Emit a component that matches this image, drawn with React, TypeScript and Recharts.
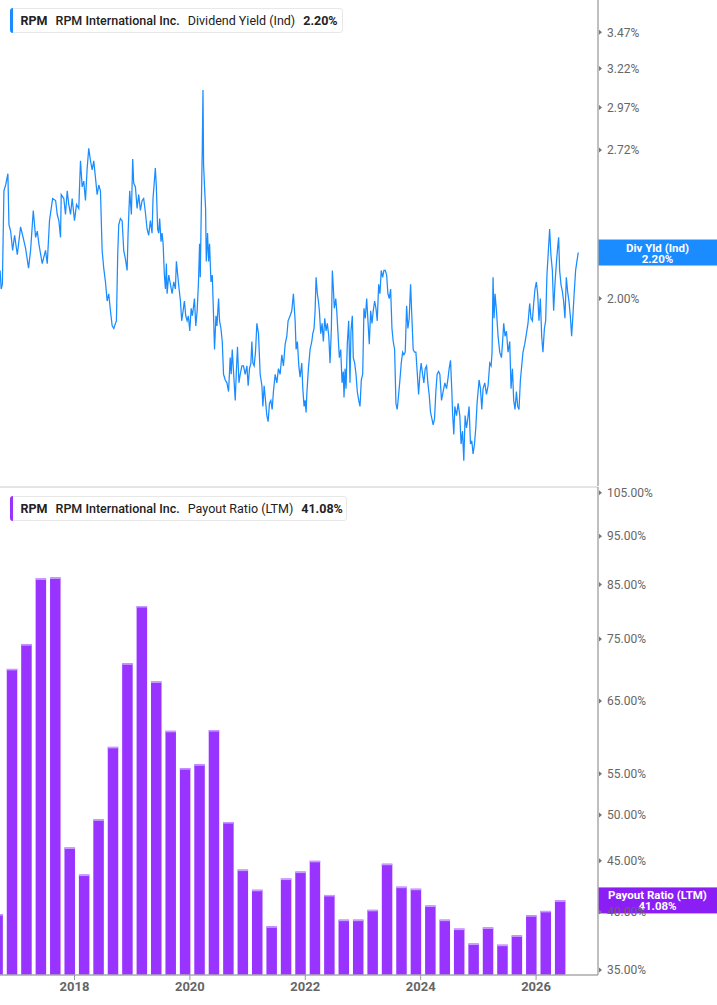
import React from "react";
import { LineChart, Line, BarChart, Bar, XAxis, YAxis, ReferenceLine } from "recharts";

// dividend yield (Ind), % — decimal year / value
const yieldDates = [
  2016.711, 2016.729, 2016.750, 2016.777, 2016.807, 2016.846, 2016.864, 2016.893, 2016.928, 2016.962,
  2017.009, 2017.066, 2017.101, 2017.152, 2017.204, 2017.239, 2017.286, 2017.326, 2017.355, 2017.383,
  2017.441, 2017.498, 2017.528, 2017.567, 2017.621, 2017.673, 2017.701, 2017.729, 2017.758, 2017.770,
  2017.815, 2017.844, 2017.874, 2017.901, 2017.931, 2017.960, 2018.000, 2018.035, 2018.074, 2018.104,
  2018.133, 2018.161, 2018.190, 2018.220, 2018.247, 2018.277, 2018.306, 2018.334, 2018.363, 2018.393,
  2018.421, 2018.450, 2018.479, 2018.507, 2018.537, 2018.566, 2018.594, 2018.623, 2018.653, 2018.681,
  2018.710, 2018.727, 2018.749, 2018.767, 2018.796, 2018.826, 2018.853, 2018.883, 2018.912, 2018.929,
  2018.957, 2018.986, 2019.009, 2019.026, 2019.056, 2019.085, 2019.113, 2019.142, 2019.172, 2019.199,
  2019.229, 2019.258, 2019.286, 2019.315, 2019.344, 2019.361, 2019.384, 2019.401, 2019.419, 2019.441,
  2019.459, 2019.476, 2019.500, 2019.518, 2019.536, 2019.558, 2019.576, 2019.593, 2019.605, 2019.633,
  2019.663, 2019.692, 2019.720, 2019.749, 2019.766, 2019.789, 2019.813, 2019.836, 2019.858, 2019.882,
  2019.905, 2019.928, 2019.952, 2019.974, 2019.998, 2020.022, 2020.044, 2020.079, 2020.102, 2020.126,
  2020.149, 2020.168, 2020.180, 2020.197, 2020.215, 2020.227, 2020.237, 2020.254, 2020.272, 2020.284,
  2020.306, 2020.324, 2020.341, 2020.365, 2020.388, 2020.410, 2020.427, 2020.452, 2020.469, 2020.497,
  2020.514, 2020.538, 2020.561, 2020.583, 2020.613, 2020.642, 2020.670, 2020.699, 2020.716, 2020.734,
  2020.756, 2020.786, 2020.803, 2020.825, 2020.850, 2020.872, 2020.901, 2020.929, 2020.959, 2020.988,
  2021.010, 2021.033, 2021.057, 2021.074, 2021.092, 2021.114, 2021.137, 2021.161, 2021.189, 2021.218,
  2021.248, 2021.265, 2021.287, 2021.310, 2021.334, 2021.356, 2021.379, 2021.403, 2021.426, 2021.448,
  2021.478, 2021.507, 2021.535, 2021.564, 2021.593, 2021.621, 2021.651, 2021.680, 2021.702, 2021.737,
  2021.766, 2021.794, 2021.824, 2021.841, 2021.863, 2021.888, 2021.910, 2021.939, 2021.957, 2021.979,
  2021.997, 2022.014, 2022.026, 2022.054, 2022.083, 2022.113, 2022.130, 2022.152, 2022.170, 2022.187,
  2022.209, 2022.227, 2022.244, 2022.268, 2022.291, 2022.313, 2022.337, 2022.360, 2022.382, 2022.407,
  2022.429, 2022.452, 2022.469, 2022.487, 2022.503, 2022.528, 2022.545, 2022.567, 2022.590, 2022.614,
  2022.637, 2022.659, 2022.671, 2022.689, 2022.706, 2022.728, 2022.752, 2022.775, 2022.792, 2022.815,
  2022.832, 2022.856, 2022.879, 2022.901, 2022.926, 2022.948, 2022.971, 2022.995, 2023.017, 2023.040,
  2023.064, 2023.086, 2023.109, 2023.133, 2023.156, 2023.178, 2023.202, 2023.225, 2023.247, 2023.272,
  2023.294, 2023.316, 2023.341, 2023.363, 2023.386, 2023.410, 2023.432, 2023.455, 2023.479, 2023.502,
  2023.524, 2023.548, 2023.571, 2023.593, 2023.618, 2023.640, 2023.663, 2023.687, 2023.709, 2023.732,
  2023.756, 2023.778, 2023.801, 2023.825, 2023.848, 2023.870, 2023.894, 2023.917, 2023.939, 2023.964,
  2023.986, 2024.008, 2024.033, 2024.055, 2024.078, 2024.102, 2024.124, 2024.147, 2024.171, 2024.194,
  2024.216, 2024.240, 2024.263, 2024.285, 2024.310, 2024.332, 2024.361, 2024.389, 2024.419, 2024.448,
  2024.470, 2024.493, 2024.517, 2024.540, 2024.552, 2024.574, 2024.592, 2024.621, 2024.649, 2024.678,
  2024.700, 2024.725, 2024.747, 2024.770, 2024.794, 2024.816, 2024.839, 2024.863, 2024.886, 2024.908,
  2024.932, 2024.955, 2024.977, 2025.012, 2025.036, 2025.059, 2025.081, 2025.111, 2025.140, 2025.168,
  2025.197, 2025.220, 2025.237, 2025.254, 2025.272, 2025.289, 2025.313, 2025.341, 2025.370, 2025.400,
  2025.417, 2025.439, 2025.462, 2025.486, 2025.514, 2025.543, 2025.566, 2025.590, 2025.612, 2025.635,
  2025.659, 2025.681, 2025.704, 2025.728, 2025.751, 2025.773, 2025.803, 2025.832, 2025.860, 2025.889,
  2025.912, 2025.936, 2025.958, 2025.981, 2026.005, 2026.027, 2026.050, 2026.074, 2026.097, 2026.119,
  2026.144, 2026.166, 2026.188, 2026.213, 2026.235, 2026.257, 2026.282, 2026.304, 2026.327, 2026.351,
  2026.373, 2026.391, 2026.408, 2026.431, 2026.455, 2026.477, 2026.500, 2026.524, 2026.546, 2026.569,
  2026.593, 2026.616, 2026.638, 2026.662, 2026.685, 2026.707, 2026.731,
];
const yieldValues = [
  2.12, 2.04, 2.06, 2.50, 2.53, 2.59, 2.33, 2.30, 2.21, 2.28,
  2.19, 2.32, 2.28, 2.22, 2.13, 2.21, 2.40, 2.27, 2.30, 2.24,
  2.15, 2.21, 2.15, 2.35, 2.46, 2.45, 2.38, 2.35, 2.27, 2.48,
  2.46, 2.38, 2.50, 2.43, 2.38, 2.46, 2.35, 2.43, 2.41, 2.66,
  2.52, 2.55, 2.45, 2.62, 2.73, 2.66, 2.61, 2.66, 2.57, 2.48,
  2.53, 2.50, 2.21, 2.13, 2.07, 1.99, 2.02, 1.95, 1.89, 1.88,
  1.90, 1.91, 2.19, 2.33, 2.36, 2.35, 2.21, 2.17, 2.12, 2.29,
  2.50, 2.38, 2.67, 2.54, 2.52, 2.41, 2.48, 2.40, 2.45, 2.46,
  2.39, 2.31, 2.28, 2.35, 2.29, 2.46, 2.55, 2.62, 2.52, 2.31,
  2.29, 2.36, 2.25, 2.29, 2.24, 2.10, 2.04, 2.15, 2.02, 2.10,
  2.06, 2.02, 2.07, 2.04, 2.16, 2.10, 2.04, 1.99, 1.91, 1.95,
  1.99, 1.93, 1.91, 1.93, 1.87, 1.96, 1.93, 2.00, 1.89, 1.95,
  2.07, 2.24, 2.09, 2.40, 2.73, 3.08, 2.64, 2.52, 2.41, 2.16,
  2.29, 2.16, 2.24, 2.07, 2.10, 1.93, 1.80, 1.93, 1.89, 2.00,
  1.91, 1.88, 1.83, 1.71, 1.69, 1.68, 1.65, 1.77, 1.71, 1.80,
  1.72, 1.62, 1.71, 1.81, 1.68, 1.71, 1.74, 1.74, 1.71, 1.74,
  1.67, 1.73, 1.75, 1.83, 1.75, 1.74, 1.79, 1.90, 1.86, 1.71,
  1.67, 1.60, 1.67, 1.62, 1.57, 1.55, 1.61, 1.62, 1.59, 1.65,
  1.71, 1.68, 1.73, 1.71, 1.78, 1.74, 1.82, 1.85, 1.91, 1.93,
  1.95, 2.02, 1.91, 1.80, 1.83, 1.74, 1.70, 1.75, 1.66, 1.60,
  1.62, 1.58, 1.64, 1.73, 1.80, 1.83, 1.86, 1.88, 1.95, 2.09,
  2.02, 1.99, 1.95, 1.86, 1.90, 1.83, 1.92, 1.87, 1.90, 1.85,
  1.75, 1.88, 2.12, 2.04, 1.96, 2.00, 1.95, 1.86, 1.77, 1.80,
  1.68, 1.72, 1.63, 1.73, 1.66, 1.82, 1.91, 1.68, 1.87, 1.93,
  1.77, 1.75, 1.71, 1.65, 1.62, 1.60, 1.69, 1.71, 1.96, 1.92,
  2.00, 1.91, 1.82, 1.95, 1.90, 1.95, 1.99, 1.96, 1.91, 2.06,
  2.02, 2.12, 2.09, 2.12, 2.12, 2.10, 2.02, 2.00, 2.04, 1.88,
  1.83, 1.80, 1.61, 1.59, 1.64, 1.69, 1.75, 1.79, 1.78, 1.79,
  1.97, 1.88, 1.92, 2.06, 1.92, 1.80, 1.79, 1.79, 1.72, 1.64,
  1.71, 1.75, 1.71, 1.68, 1.73, 1.74, 1.68, 1.64, 1.58, 1.56,
  1.54, 1.56, 1.65, 1.71, 1.72, 1.71, 1.62, 1.65, 1.68, 1.66,
  1.69, 1.73, 1.76, 1.65, 1.58, 1.51, 1.60, 1.57, 1.61, 1.57,
  1.48, 1.52, 1.43, 1.57, 1.53, 1.56, 1.60, 1.48, 1.49, 1.45,
  1.48, 1.53, 1.61, 1.69, 1.66, 1.59, 1.66, 1.68, 1.64, 1.67,
  1.75, 1.74, 1.79, 2.09, 1.92, 2.02, 1.95, 1.85, 1.79, 1.77,
  1.82, 1.90, 1.85, 1.87, 1.79, 1.83, 1.66, 1.73, 1.62, 1.59,
  1.65, 1.60, 1.59, 1.69, 1.74, 1.79, 1.82, 1.86, 1.90, 1.98,
  1.92, 1.91, 1.98, 2.04, 2.07, 2.02, 1.91, 2.00, 1.85, 1.79,
  1.88, 1.91, 2.10, 2.21, 2.31, 2.19, 2.12, 1.95, 2.06, 2.15,
  2.22, 2.27, 2.12, 2.06, 2.03, 1.99, 1.92, 2.09, 2.03, 1.99,
  1.93, 1.85, 1.93, 2.03, 2.12, 2.16, 2.20,
];

// payout ratio (LTM), % — fiscal quarter ends
const payoutQuarters = [
  "2016-08", "2016-11", "2017-02", "2017-05", "2017-08", "2017-11", "2018-02", "2018-05",
  "2018-08", "2018-11", "2019-02", "2019-05", "2019-08", "2019-11", "2020-02", "2020-05",
  "2020-08", "2020-11", "2021-02", "2021-05", "2021-08", "2021-11", "2022-02", "2022-05",
  "2022-08", "2022-11", "2023-02", "2023-05", "2023-08", "2023-11", "2024-02", "2024-05",
  "2024-08", "2024-11", "2025-02", "2025-05", "2025-08", "2025-11", "2026-02", "2026-05",
];
const payoutValues = [
  39.8, 70.0, 74.1, 86.2, 86.4, 46.4, 43.6, 49.5,
  58.5, 70.9, 80.9, 68.0, 60.7, 55.7, 56.2, 60.8,
  49.2, 44.1, 42.1, 38.7, 43.2, 43.9, 45.0, 41.6,
  39.3, 39.3, 40.2, 44.7, 42.4, 42.2, 40.6, 39.3,
  38.5, 37.2, 38.6, 37.1, 37.9, 39.7, 40.1, 41.08,
];

const yieldTicks = [3.47, 3.22, 2.97, 2.72, 2.0];
const payoutTicks = [105, 95, 85, 75, 65, 55, 50, 45, 40, 35];
const yearTicks = [2018, 2020, 2022, 2024, 2026];
const lastYield = 2.2;
const lastPayout = 41.08;

const yieldData = yieldDates.map((t, i) => ({ t, v: yieldValues[i] }));
const payoutData = payoutQuarters.map((q, i) => {
  const [y, m] = q.split("-").map(Number);
  return { t: y + m / 12, v: payoutValues[i] };
});

const FONT = "Roboto, 'Noto Sans', sans-serif";
const BLUE = "#1a8cff";
const PURPLE = "#9933ff";
const TAG_PURPLE = "#8b1ef5";
const X_DOMAIN = [2016.709, 2027.073];

const RightTick = (props: any) => {
  const { x, y, payload } = props;
  return (
    <g>
      <path d={`M${x - 7},${y - 2.5}L${x - 4},${y}L${x - 7},${y + 2.5}Z`} fill="#777" />
      <text x={x + 1} y={y} dy="0.35em" fontSize={12} fill="#666" fontFamily={FONT}>
        {payload.value.toFixed(2)}%
      </text>
    </g>
  );
};

const ValueTag = (props: any) => {
  const { viewBox, title, value, fill } = props;
  const x = viewBox.x + viewBox.width;
  const y = viewBox.y;
  return (
    <g>
      <rect x={x} y={y - 13} width={119} height={26} fill={fill} />
      <text x={x + 59.5} y={y - 5} dy="0.35em" textAnchor="middle" fill="#fff" fontSize={11.5} fontWeight={700} fontFamily={FONT}>
        {title}
      </text>
      <text x={x + 59.5} y={y + 6} dy="0.35em" textAnchor="middle" fill="#fff" fontSize={11.5} fontWeight={700} fontFamily={FONT}>
        {value}
      </text>
    </g>
  );
};

const CappedBar = (props: any) => {
  const { x, y, width, height } = props;
  if (!height || height <= 0) return null;
  return (
    <g>
      <rect x={x} y={y} width={width} height={height} fill={PURPLE} />
      <rect x={x} y={y} width={width} height={1.5} fill="#c79dff" />
    </g>
  );
};

const Header = ({ top, width, color, metric, value }: any) => (
  <div
    style={{
      position: "absolute",
      left: 10,
      top,
      width,
      height: 25,
      boxSizing: "border-box",
      border: "1px solid #e8e8e8",
      borderRadius: 3,
      background: "#fff",
      display: "flex",
      alignItems: "center",
      fontFamily: FONT,
      fontSize: 12.5,
      color: "#222",
      whiteSpace: "nowrap",
    }}
  >
    <div style={{ position: "absolute", left: -1, top: -1, bottom: -1, width: 3, background: color, borderRadius: "3px 0 0 3px" }} />
    <span style={{ marginLeft: 9.5, fontWeight: 700 }}>RPM</span>
    <span style={{ marginLeft: 8, fontWeight: 500 }}>RPM International Inc.</span>
    <span style={{ marginLeft: 8 }}>{metric}</span>
    <span style={{ marginLeft: 8, fontWeight: 700 }}>{value}</span>
  </div>
);

export default function App() {
  return (
    <div style={{ position: "absolute", left: 0, top: 0, width: 717, height: 1005, background: "#fff", overflow: "hidden" }}>
      <div style={{ position: "absolute", left: 0, top: 0 }}>
        <LineChart width={717} height={486} data={yieldData} margin={{ top: 0, right: 0, bottom: 0, left: 0 }}>
          <XAxis type="number" dataKey="t" domain={X_DOMAIN} allowDataOverflow hide />
          <YAxis
            orientation="right"
            width={119}
            scale="log"
            domain={[1.357, 3.71]}
            allowDataOverflow
            ticks={yieldTicks}
            interval={0}
            tickLine={false}
            axisLine={{ stroke: "#aaa", strokeWidth: 1.5 }}
            tick={<RightTick />}
          />
          <Line
            type="linear"
            dataKey="v"
            stroke={BLUE}
            strokeWidth={1.25}
            dot={false}
            activeDot={false}
            isAnimationActive={false}
          />
          <ReferenceLine
            y={lastYield}
            stroke="none"
            label={<ValueTag title="Div Yld (Ind)" value={`${lastYield.toFixed(2)}%`} fill={BLUE} />}
          />
        </LineChart>
      </div>
      <div style={{ position: "absolute", left: 0, top: 486, width: 598, height: 2, background: "#e4e4e4" }} />
      <div style={{ position: "absolute", left: 0, top: 487 }}>
        <BarChart width={717} height={518} data={payoutData} margin={{ top: 0, right: 0, bottom: 0, left: 0 }}>
          <XAxis
            type="number"
            dataKey="t"
            domain={X_DOMAIN}
            allowDataOverflow
            ticks={yearTicks}
            interval={0}
            height={30}
            tickSize={5}
            tickMargin={2}
            axisLine={{ stroke: "#aaa", strokeWidth: 1.5 }}
            tickLine={{ stroke: "#999" }}
            tick={{ fontSize: 13, fontWeight: 700, fill: "#666", fontFamily: FONT }}
          />
          <YAxis
            orientation="right"
            width={119}
            scale="log"
            domain={[34.6, 106.4]}
            allowDataOverflow
            ticks={payoutTicks}
            interval={0}
            tickLine={false}
            axisLine={{ stroke: "#aaa", strokeWidth: 1.5 }}
            tick={<RightTick />}
          />
          <Bar dataKey="v" barSize={10.5} shape={<CappedBar />} isAnimationActive={false} />
          <ReferenceLine
            y={lastPayout}
            stroke="none"
            label={<ValueTag title="Payout Ratio (LTM)" value={`${lastPayout.toFixed(2)}%`} fill={TAG_PURPLE} />}
          />
        </BarChart>
      </div>
      <Header top={8} width={333} color={BLUE} metric="Dividend Yield (Ind)" value={`${lastYield.toFixed(2)}%`} />
      <Header top={496} width={337} color={PURPLE} metric="Payout Ratio (LTM)" value={`${lastPayout.toFixed(2)}%`} />
    </div>
  );
}
